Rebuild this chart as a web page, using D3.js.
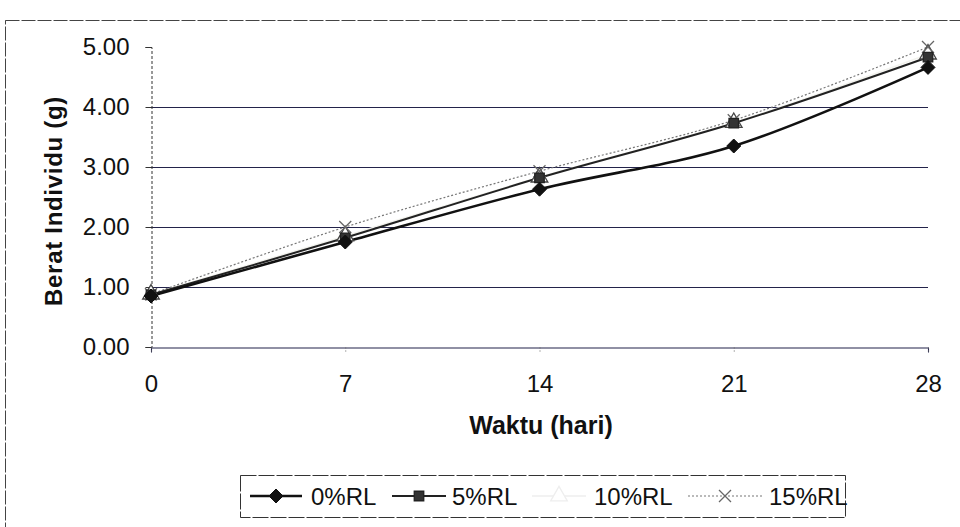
<!DOCTYPE html>
<html>
<head>
<meta charset="utf-8">
<script src="https://cdn.jsdelivr.net/npm/d3@7"></script>
<style>
  html, body { margin: 0; padding: 0; background: #fff; }
  svg { display: block; font-family: Arial, "Liberation Sans", sans-serif; }
</style>
</head>
<body>
<svg id="chart" width="960" height="527"></svg>
<script>
// ---- data ----
const days = [0, 7, 14, 21, 28];
const seriesNames = ["0%RL", "5%RL", "10%RL", "15%RL"];
const rl0  = [0.85, 1.75, 2.63, 3.35, 4.66];
const rl5  = [0.87, 1.82, 2.82, 3.73, 4.83];
const rl10 = [0.88, 1.85, 2.83, 3.74, 4.88];
const rl15 = [0.88, 2.00, 2.93, 3.78, 5.00];
const yTicks = [0, 1, 2, 3, 4, 5];
const xTitle = "Waktu (hari)";
const yTitle = "Berat Individu (g)";

const seriesValues = [rl0, rl5, rl10, rl15];
const styles = [
  { stroke: "#111", width: 2.6, dash: null, marker: "diamond", mFill: "#111", mStroke: "#111", mSize: 7 },
  { stroke: "#222", width: 2.0, dash: null, marker: "square", mFill: "#333", mStroke: "#222", mSize: 90 },
  { stroke: "#f3f3ee", width: 1.5, dash: null, marker: "triangle", mFill: "#fff", mStroke: "#444", mSize: 120, legendStroke: "#eee" },
  { stroke: "#777", width: 1.2, dash: "2,2", marker: "x", mFill: "none", mStroke: "#666", mSize: 12 }
];

const svg = d3.select("#chart");

// outer chart border
svg.append("rect").attr("x", 5.5).attr("y", 20.5).attr("width", 970).attr("height", 520)
  .attr("fill", "none").attr("stroke", "#444").attr("stroke-width", 1)
  .attr("stroke-dasharray", "14,2");

const x = d3.scaleLinear().domain([0, 28]).range([151, 928]);
const y = d3.scaleLinear().domain([0, 5]).range([347, 47]);

// gridlines
svg.append("g").selectAll("line").data(yTicks.filter(t => t > 0 && t < 5)).join("line")
  .attr("x1", x(0)).attr("x2", x(28))
  .attr("y1", d => y(d) + 0.5).attr("y2", d => y(d) + 0.5)
  .attr("stroke", "#23234a").attr("stroke-width", 1.1);

// y axis
const yAxis = d3.axisLeft(y).tickValues(yTicks).tickFormat(d3.format(".2f")).tickSize(6).tickPadding(16);
const gy = svg.append("g").attr("transform", `translate(${x(0) + 0.5},0)`).call(yAxis);
gy.select(".domain").attr("stroke", "#333").attr("stroke-dasharray", "3,2");
gy.selectAll(".tick line").attr("stroke", "#333");
gy.selectAll(".tick text").attr("font-size", 24).attr("fill", "#111")
  .attr("font-family", "Arial, 'Liberation Sans', sans-serif");

// x axis
const xAxis = d3.axisBottom(x).tickValues(days).tickSize(5).tickPadding(22);
const gx = svg.append("g").attr("transform", `translate(0,${y(0) + 0.5})`).call(xAxis);
gx.select(".domain").attr("stroke", "#23234a").attr("stroke-width", 1.1);
gx.selectAll(".tick line").attr("stroke", "#666").attr("stroke-dasharray", "1,2");
gx.selectAll(".tick text").attr("font-size", 24).attr("fill", "#111")
  .attr("font-family", "Arial, 'Liberation Sans', sans-serif");

// axis titles
svg.append("text").attr("x", 541).attr("y", 434).attr("text-anchor", "middle")
  .attr("font-size", 25).attr("font-weight", "bold").attr("fill", "#111").text(xTitle);
svg.append("text").attr("transform", "translate(62,201) rotate(-90)").attr("text-anchor", "middle")
  .attr("font-size", 24).attr("font-weight", "bold").attr("letter-spacing", 0.7).attr("fill", "#111").text(yTitle);

// markers
function drawMarker(g, type, cx, cy, st, strokeOverride) {
  const sc = strokeOverride || st.mStroke;
  if (type === "x") {
    const s = st.mSize / 2;
    g.append("path").attr("d", `M${cx - s},${cy - s}L${cx + s},${cy + s}M${cx - s},${cy + s}L${cx + s},${cy - s}`)
      .attr("stroke", sc).attr("stroke-width", 1.3).attr("fill", "none");
  } else if (type === "diamond") {
    const s = st.mSize;
    g.append("path").attr("d", `M${cx},${cy - s}L${cx + s},${cy}L${cx},${cy + s}L${cx - s},${cy}Z`)
      .attr("fill", st.mFill).attr("stroke", sc).attr("stroke-width", 1);
  } else {
    const symType = type === "square" ? d3.symbolSquare : d3.symbolTriangle;
    g.append("path").attr("d", d3.symbol().type(symType).size(st.mSize)())
      .attr("transform", `translate(${cx},${cy})`)
      .attr("fill", st.mFill).attr("stroke", sc).attr("stroke-width", 1.3);
  }
}

const line = d3.line().x((d, i) => x(days[i])).y(d => y(d)).curve(d3.curveCatmullRom.alpha(0.5));

const order = [2, 3, 1, 0];
order.forEach(si => {
  const st = styles[si];
  svg.append("path").datum(seriesValues[si]).attr("d", line)
    .attr("fill", "none").attr("stroke", st.stroke).attr("stroke-width", st.width)
    .attr("stroke-dasharray", st.dash);
});
order.forEach(si => {
  const st = styles[si];
  const g = svg.append("g");
  seriesValues[si].forEach((v, i) => drawMarker(g, st.marker, x(days[i]), y(v), st));
});

// legend
const lg = svg.append("g");
lg.append("rect").attr("x", 240.5).attr("y", 475.5).attr("width", 605).attr("height", 42)
  .attr("fill", "#fff").attr("stroke", "#333").attr("stroke-width", 1).attr("stroke-dasharray", "16,2");
const legendItems = [
  { x1: 250, x2: 302, tx: 311 },
  { x1: 392, x2: 446, tx: 452 },
  { x1: 532, x2: 586, tx: 594 },
  { x1: 688, x2: 762, tx: 769 }
];
const ly = 496;
legendItems.forEach((it, si) => {
  const st = styles[si];
  lg.append("line").attr("x1", it.x1).attr("x2", it.x2).attr("y1", ly).attr("y2", ly)
    .attr("stroke", st.legendStroke || st.stroke).attr("stroke-width", st.width).attr("stroke-dasharray", st.dash);
  drawMarker(lg, st.marker, (it.x1 + it.x2) / 2, ly, st, st.legendStroke);
  lg.append("text").attr("x", it.tx).attr("y", ly + 9).attr("font-size", 24).attr("fill", "#111")
    .text(seriesNames[si]);
});
</script>
</body>
</html>
